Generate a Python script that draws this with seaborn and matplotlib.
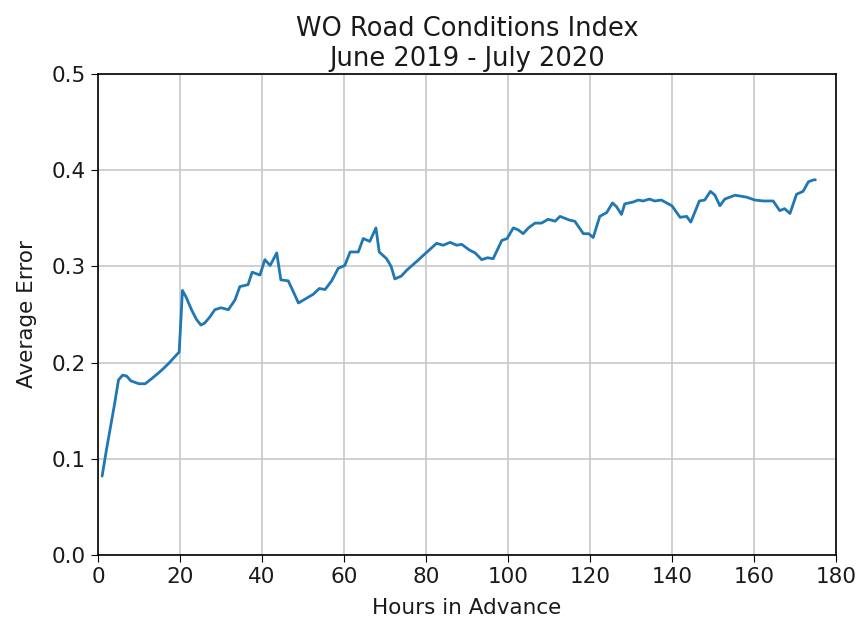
import numpy as np
import pandas as pd
import matplotlib
matplotlib.use("Agg")
import matplotlib.pyplot as plt
import seaborn as sns

hours = [1, 2, 3, 4, 5, 6, 7, 8, 10, 11.5, 13, 14.7, 16, 17.2, 18.5, 19.8,
         20.6, 21.5, 22.8, 24, 25.1, 26, 27.2, 28.5, 30, 31.8, 33.4, 34.6,
         36.6, 37.6, 39.5, 40.7, 42, 43.6, 44.6, 46.4, 47.5, 48.9, 50.5,
         52.5, 54, 55.4, 57, 58.6, 60.2, 61.5, 63.5, 64.7, 66.3, 67.8, 68.6,
         70.4, 71.5, 72.4, 74, 75.3, 77.7, 80, 82.6, 84.2, 85.9, 87.5, 88.7,
         90.6, 92, 93.6, 95, 96.4, 98.5, 99.8, 101.3, 102.5, 103.7, 105,
         106.6, 108.2, 109.8, 111.5, 112.7, 115.1, 116.3, 118.4, 119.7, 120.8,
         122.4, 124.1, 125.5, 126.5, 127.7, 128.5, 130.6, 131.8, 133, 134.5,
         135.8, 137.4, 140, 142, 143.6, 144.6, 146.7, 148, 149.4, 150.5,
         151.7, 152.9, 155.4, 158.2, 160.2, 162.3, 164.7, 166.3, 167.5,
         168.8, 170.4, 172, 173.3, 174.6, 175]
avg_error = [0.082, 0.108, 0.132, 0.156, 0.182, 0.187, 0.186, 0.181, 0.178,
             0.178, 0.183, 0.189, 0.194, 0.199, 0.205, 0.211,
             0.275, 0.268, 0.255, 0.245, 0.239, 0.241, 0.247, 0.255, 0.257,
             0.255, 0.265, 0.279, 0.281, 0.294, 0.291, 0.307, 0.301, 0.314,
             0.286, 0.285, 0.275, 0.262, 0.266, 0.271, 0.277, 0.276, 0.285,
             0.298, 0.301, 0.315, 0.315, 0.329, 0.326, 0.340, 0.315,
             0.308, 0.300, 0.287, 0.290, 0.296, 0.305, 0.314, 0.324, 0.322,
             0.325, 0.322, 0.323, 0.317, 0.314, 0.307, 0.309, 0.308, 0.327,
             0.329, 0.340, 0.338, 0.334, 0.340, 0.345, 0.345, 0.349, 0.347,
             0.352, 0.348, 0.347, 0.334, 0.334, 0.330, 0.352, 0.356, 0.366,
             0.362, 0.354, 0.365, 0.367, 0.369, 0.368, 0.370, 0.368, 0.369,
             0.363, 0.351, 0.352, 0.346, 0.368, 0.369, 0.378, 0.374, 0.363,
             0.370, 0.374, 0.372, 0.369, 0.368, 0.368, 0.358, 0.360, 0.355,
             0.375, 0.378, 0.388, 0.390, 0.390]

df = pd.DataFrame({"Hours in Advance": hours, "Average Error": avg_error})

sns.set_style("whitegrid", {"axes.edgecolor": "black", "grid.color": "#c8c8c8",
                            "text.color": "#1a1a1a", "axes.labelcolor": "#1a1a1a",
                            "xtick.color": "#1a1a1a", "ytick.color": "#1a1a1a"})
plt.rcParams['font.family'] = ['DejaVu Sans']

fig = plt.figure(figsize=(8.56, 6.25), dpi=100)
ax = fig.add_axes([0.1145, 0.112, 0.862, 0.7696])

sns.lineplot(data=df, x="Hours in Advance", y="Average Error", ax=ax,
             color="#1f77b4", linewidth=2)

ax.set_xlim(0, 180)
ax.set_ylim(0, 0.5)
ax.set_xticks(np.arange(0, 181, 20))
ax.set_yticks(np.arange(0, 0.51, 0.1))
ax.set_yticklabels([f"{v:.1f}" for v in np.arange(0, 0.51, 0.1)])
ax.tick_params(labelsize=15.5, length=5, color="black", left=True, bottom=True)
ax.set_xlabel("Hours in Advance", fontsize=15.5, labelpad=8)
ax.set_ylabel("Average Error", fontsize=15.5, labelpad=11)
ax.set_title("WO Road Conditions Index\nJune 2019 - July 2020", fontsize=18.5)
ax.grid(True, linewidth=1.2)
for s in ax.spines.values():
    s.set_linewidth(1.2)

fig.savefig("out.png", dpi=100)
